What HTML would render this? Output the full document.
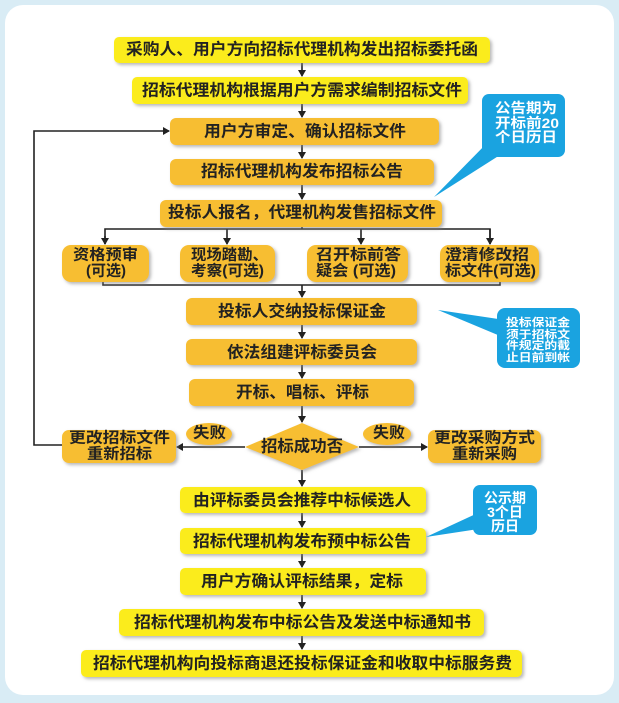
<!DOCTYPE html>
<html><head><meta charset="utf-8"><style>
html,body{margin:0;padding:0;background:#d9ecf5;}
svg{display:block;}
text{font-family:"Liberation Sans","Noto Sans CJK SC",sans-serif;font-weight:bold;dominant-baseline:central;}
.t{font-size:16px;fill:#222;}
.s{font-size:15px;fill:#222;}
.w{font-size:14px;fill:#fff;}
.w2{font-size:11px;fill:#fff;}
</style></head><body>
<svg width="619" height="703" viewBox="0 0 619 703" xmlns="http://www.w3.org/2000/svg">
<defs>
<marker id="a" markerWidth="8" markerHeight="8" refX="6" refY="4" orient="auto" markerUnits="userSpaceOnUse"><path d="M0,0 L7,4 L0,8 z" fill="#222"/></marker>
<filter id="sh" x="-10%" y="-20%" width="120%" height="150%"><feDropShadow dx="2" dy="2" stdDeviation="1.5" flood-color="#888" flood-opacity="0.6"/></filter>
</defs>
<rect x="0" y="0" width="619" height="703" fill="#d9ecf5"/>
<rect x="5" y="5" width="609" height="690" rx="18" fill="#fff"/>

<g stroke="#222" stroke-width="1.6" fill="none">
<line x1="302" y1="63" x2="302" y2="76" marker-end="url(#a)"/>
<line x1="302" y1="104" x2="302" y2="117" marker-end="url(#a)"/>
<line x1="302" y1="145" x2="302" y2="158" marker-end="url(#a)"/>
<line x1="302" y1="185" x2="302" y2="199" marker-end="url(#a)"/>
<line x1="302" y1="227" x2="302" y2="229"/>
<polyline points="105,244 105,229 490,229 490,244"/>
<line x1="105" y1="236" x2="105" y2="244" marker-end="url(#a)"/>
<line x1="227" y1="229" x2="227" y2="244" marker-end="url(#a)"/>
<line x1="361" y1="229" x2="361" y2="244" marker-end="url(#a)"/>
<line x1="490" y1="229" x2="490" y2="244" marker-end="url(#a)"/>
<polyline points="103,282 103,285 500,285 500,282"/>
<line x1="302" y1="285" x2="302" y2="297" marker-end="url(#a)"/>
<line x1="302" y1="325" x2="302" y2="338" marker-end="url(#a)"/>
<line x1="302" y1="365" x2="302" y2="378" marker-end="url(#a)"/>
<line x1="302" y1="406" x2="302" y2="422" marker-end="url(#a)"/>
<line x1="245" y1="447" x2="177" y2="447" marker-end="url(#a)"/>
<line x1="359" y1="447" x2="427" y2="447" marker-end="url(#a)"/>
<polyline points="62,445 34,445 34,131 169,131" marker-end="url(#a)"/>
<line x1="302" y1="470" x2="302" y2="486" marker-end="url(#a)"/>
<line x1="302" y1="513" x2="302" y2="527" marker-end="url(#a)"/>
<line x1="302" y1="554" x2="302" y2="567" marker-end="url(#a)"/>
<line x1="302" y1="595" x2="302" y2="608" marker-end="url(#a)"/>
<line x1="302" y1="636" x2="302" y2="649" marker-end="url(#a)"/>
</g>

<g filter="url(#sh)">
<rect x="114" y="37" width="376" height="26" rx="5" fill="#fbec1e"/>
<rect x="132" y="77" width="336" height="27" rx="5" fill="#fbec1e"/>
<rect x="170" y="118" width="269" height="27" rx="6" fill="#f7be33"/>
<rect x="170" y="159" width="264" height="26" rx="6" fill="#f7be33"/>
<rect x="160" y="200" width="282" height="27" rx="6" fill="#f7be33"/>
<rect x="62" y="245" width="87" height="37" rx="9" fill="#f7be33"/>
<rect x="180" y="245" width="95" height="37" rx="9" fill="#f7be33"/>
<rect x="307" y="245" width="101" height="37" rx="9" fill="#f7be33"/>
<rect x="440" y="245" width="99" height="37" rx="9" fill="#f7be33"/>
<rect x="186" y="298" width="231" height="27" rx="6" fill="#f7be33"/>
<rect x="186" y="339" width="231" height="26" rx="6" fill="#f7be33"/>
<rect x="189" y="379" width="225" height="27" rx="6" fill="#f7be33"/>
<polygon points="302,423 359,447 302,470 245,447" fill="#f7be33"/>
<rect x="62" y="430" width="114" height="33" rx="7" fill="#f7be33"/>
<rect x="428" y="430" width="113" height="33" rx="7" fill="#f7be33"/>
<ellipse cx="209" cy="434" rx="23" ry="11" fill="#f7be33"/>
<ellipse cx="387" cy="434" rx="24" ry="11" fill="#f7be33"/>
<rect x="180" y="487" width="246" height="26" rx="5" fill="#fbec1e"/>
<rect x="180" y="528" width="246" height="26" rx="5" fill="#fbec1e"/>
<rect x="180" y="568" width="246" height="27" rx="5" fill="#fbec1e"/>
<rect x="119" y="609" width="365" height="27" rx="5" fill="#fbec1e"/>
<rect x="81" y="650" width="441" height="27" rx="5" fill="#fbec1e"/>
</g>

<g fill="#1aa3e0">
<rect x="482" y="94" width="83" height="63" rx="7"/>
<polygon points="434,197 490,140 500,155"/>
<rect x="497" y="308" width="83" height="60" rx="8"/>
<polygon points="438,310 505,320 505,338"/>
<rect x="473" y="485" width="64" height="50" rx="7"/>
<polygon points="426,537 480,512 485,528"/>
</g>

<g text-anchor="start">
<text class="t" x="126" y="50" textLength="352" lengthAdjust="spacingAndGlyphs">采购人、用户方向招标代理机构发出招标委托函</text>
<text class="t" x="142" y="91" textLength="320" lengthAdjust="spacingAndGlyphs">招标代理机构根据用户方需求编制招标文件</text>
<text class="t" x="204" y="132" textLength="202" lengthAdjust="spacingAndGlyphs">用户方审定、确认招标文件</text>
<text class="t" x="201" y="172" textLength="202" lengthAdjust="spacingAndGlyphs">招标代理机构发布招标公告</text>
<text class="t" x="168" y="213" textLength="268" lengthAdjust="spacingAndGlyphs">投标人报名，代理机构发售招标文件</text>
<text class="s" x="73" y="255" textLength="65" lengthAdjust="spacingAndGlyphs">资格预审</text>
<text class="s" x="86" y="271" textLength="40" lengthAdjust="spacingAndGlyphs">(可选)</text>
<text class="s" x="191" y="255" textLength="77" lengthAdjust="spacingAndGlyphs">现场踏勘、</text>
<text class="s" x="191" y="271" textLength="73" lengthAdjust="spacingAndGlyphs">考察(可选)</text>
<text class="s" x="316" y="255" textLength="85" lengthAdjust="spacingAndGlyphs">召开标前答</text>
<text class="s" x="316" y="271" textLength="80" lengthAdjust="spacingAndGlyphs">疑会 (可选)</text>
<text class="s" x="445" y="255" textLength="84" lengthAdjust="spacingAndGlyphs">澄清修改招</text>
<text class="s" x="445" y="271" textLength="91" lengthAdjust="spacingAndGlyphs">标文件(可选)</text>
<text class="t" x="218" y="312" textLength="168" lengthAdjust="spacingAndGlyphs">投标人交纳投标保证金</text>
<text class="t" x="227" y="353" textLength="150" lengthAdjust="spacingAndGlyphs">依法组建评标委员会</text>
<text class="t" x="236" y="393" textLength="133" lengthAdjust="spacingAndGlyphs">开标、唱标、评标</text>
<text class="t" x="261" y="447" textLength="82" lengthAdjust="spacingAndGlyphs">招标成功否</text>
<text class="s" x="69" y="438" textLength="101" lengthAdjust="spacingAndGlyphs">更改招标文件</text>
<text class="s" x="87" y="454" textLength="65" lengthAdjust="spacingAndGlyphs">重新招标</text>
<text class="s" x="434" y="438" textLength="101" lengthAdjust="spacingAndGlyphs">更改采购方式</text>
<text class="s" x="452" y="454" textLength="65" lengthAdjust="spacingAndGlyphs">重新采购</text>
<text class="s" x="193" y="433" textLength="33" lengthAdjust="spacingAndGlyphs">失败</text>
<text class="s" x="373" y="433" textLength="32" lengthAdjust="spacingAndGlyphs">失败</text>
<text class="t" x="193" y="501" textLength="218" lengthAdjust="spacingAndGlyphs">由评标委员会推荐中标候选人</text>
<text class="t" x="193" y="542" textLength="218" lengthAdjust="spacingAndGlyphs">招标代理机构发布预中标公告</text>
<text class="t" x="201" y="582" textLength="202" lengthAdjust="spacingAndGlyphs">用户方确认评标结果，定标</text>
<text class="t" x="134" y="623" textLength="337" lengthAdjust="spacingAndGlyphs">招标代理机构发布中标公告及发送中标通知书</text>
<text class="t" x="93" y="664" textLength="419" lengthAdjust="spacingAndGlyphs">招标代理机构向投标商退还投标保证金和收取中标服务费</text>
<text class="w" x="495" y="108" textLength="62" lengthAdjust="spacingAndGlyphs">公告期为</text>
<text class="w" x="495" y="123" textLength="64" lengthAdjust="spacingAndGlyphs">开标前20</text>
<text class="w" x="495" y="137" textLength="62" lengthAdjust="spacingAndGlyphs">个日历日</text>
<text class="w2" x="506" y="323" textLength="64" lengthAdjust="spacingAndGlyphs">投标保证金</text>
<text class="w2" x="506" y="335" textLength="64" lengthAdjust="spacingAndGlyphs">须于招标文</text>
<text class="w2" x="506" y="346" textLength="64" lengthAdjust="spacingAndGlyphs">件规定的截</text>
<text class="w2" x="506" y="358" textLength="64" lengthAdjust="spacingAndGlyphs">止日前到帐</text>
</g>
<g text-anchor="middle">
<text class="w" x="505" y="498">公示期</text>
<text class="w" x="505" y="512">3个日</text>
<text class="w" x="505" y="526">历日</text>
</g>
</svg>
</body></html>
